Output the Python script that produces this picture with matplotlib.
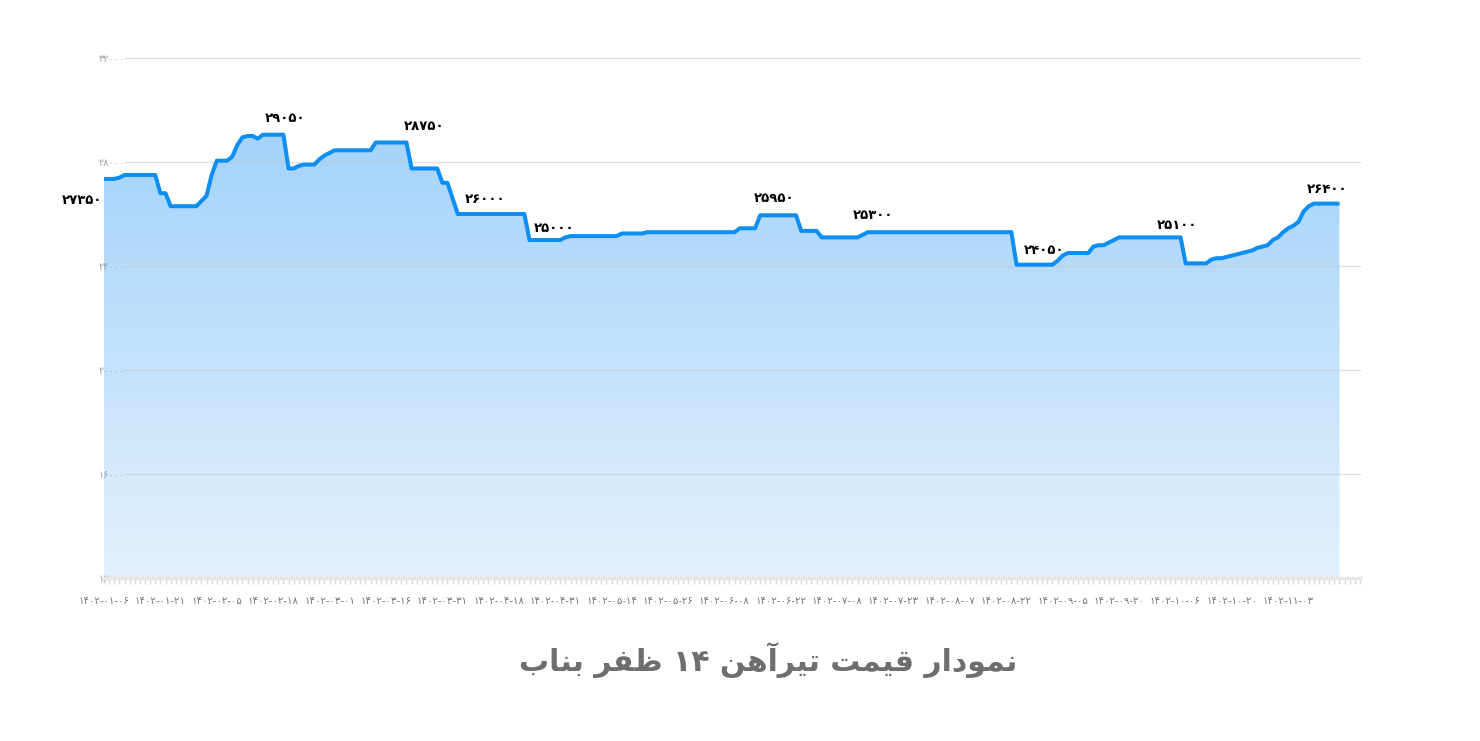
import matplotlib
matplotlib.use('Agg')
import matplotlib.pyplot as plt
import numpy as np
from matplotlib.colors import LinearSegmentedColormap

plt.rcParams['font.family'] = ['DejaVu Sans']

# daily price, one value per trading day (11 days between date labels)
prices = [
    27350, 27350, 27350, 27400, 27500, 27500, 27500, 27500, 27500, 27500, 27500,
    26800, 26800, 26300, 26300, 26300, 26300, 26300, 26300, 26500, 26700, 27500,
    28050, 28050, 28050, 28200, 28650, 28950, 29000, 29000, 28900, 29050, 29050,
    29050, 29050, 29050, 27750, 27750, 27850, 27900, 27900, 27900, 28100, 28250,
    28350, 28450, 28450, 28450, 28450, 28450, 28450, 28450, 28450, 28750, 28750,
    28750, 28750, 28750, 28750, 28750, 27750, 27750, 27750, 27750, 27750, 27750,
    27200, 27200, 26600, 26000, 26000, 26000, 26000, 26000, 26000, 26000, 26000,
    26000, 26000, 26000, 26000, 26000, 26000, 25000, 25000, 25000, 25000, 25000,
    25000, 25000, 25100, 25150, 25150, 25150, 25150, 25150, 25150, 25150, 25150,
    25150, 25150, 25250, 25250, 25250, 25250, 25250, 25300, 25300, 25300, 25300,
    25300, 25300, 25300, 25300, 25300, 25300, 25300, 25300, 25300, 25300, 25300,
    25300, 25300, 25300, 25450, 25450, 25450, 25450, 25950, 25950, 25950, 25950,
    25950, 25950, 25950, 25950, 25350, 25350, 25350, 25350, 25100, 25100, 25100,
    25100, 25100, 25100, 25100, 25100, 25200, 25300, 25300, 25300, 25300, 25300,
    25300, 25300, 25300, 25300, 25300, 25300, 25300, 25300, 25300, 25300, 25300,
    25300, 25300, 25300, 25300, 25300, 25300, 25300, 25300, 25300, 25300, 25300,
    25300, 25300, 24050, 24050, 24050, 24050, 24050, 24050, 24050, 24050, 24200,
    24400, 24500, 24500, 24500, 24500, 24500, 24750, 24800, 24800, 24900, 25000,
    25100, 25100, 25100, 25100, 25100, 25100, 25100, 25100, 25100, 25100, 25100,
    25100, 25100, 24100, 24100, 24100, 24100, 24100, 24250, 24300, 24300, 24350,
    24400, 24450, 24500, 24550, 24600, 24700, 24750, 24800, 25000, 25100, 25300,
    25450, 25550, 25700, 26100, 26300, 26400, 26400, 26400, 26400, 26400, 26400,
]

date_labels = [
    '۱۴۰۲-۰۱-۰۶', '۱۴۰۲-۰۱-۲۱', '۱۴۰۲-۰۲-۰۵', '۱۴۰۲-۰۲-۱۸', '۱۴۰۲-۰۳-۰۱',
    '۱۴۰۲-۰۳-۱۶', '۱۴۰۲-۰۳-۳۱', '۱۴۰۲-۰۴-۱۸', '۱۴۰۲-۰۴-۳۱', '۱۴۰۲-۰۵-۱۴',
    '۱۴۰۲-۰۵-۲۶', '۱۴۰۲-۰۶-۰۸', '۱۴۰۲-۰۶-۲۲', '۱۴۰۲-۰۷-۰۸', '۱۴۰۲-۰۷-۲۳',
    '۱۴۰۲-۰۸-۰۷', '۱۴۰۲-۰۸-۲۲', '۱۴۰۲-۰۹-۰۵', '۱۴۰۲-۰۹-۲۰', '۱۴۰۲-۱۰-۰۶',
    '۱۴۰۲-۱۰-۲۰', '۱۴۰۲-۱۱-۰۳',
]
label_step = 11

y_ticks = [12000, 16000, 20000, 24000, 28000, 32000]

# points that carry a value label
marked_idx = [0, 31, 58, 70, 84, 128, 149, 180, 205, 238]

title = 'نمودار قیمت تیرآهن ۱۴ ظفر بناب'

# label offsets in pixels (dx, dy) and horizontal alignment
label_offsets = [(-2, -22, 'right'), (2, 16, 'left'), (2, 16, 'left'),
                 (2, 14, 'left'), (-1, 11, 'left'), (-6, 17, 'left'),
                 (-15, 17, 'left'), (-3, 14, 'left'), (2, 12, 'left'),
                 (-17, 14, 'left')]

fa_digits = str.maketrans('0123456789', '۰۱۲۳۴۵۶۷۸۹')


def fa(n):
    return str(n).translate(fa_digits)


# minimal arabic shaping: isolated, final, initial, medial
FORMS = {
    'ا': ('\uFE8D', '\uFE8E', None, None),
    'آ': ('\uFE81', '\uFE82', None, None),
    'ب': ('\uFE8F', '\uFE90', '\uFE91', '\uFE92'),
    'ت': ('\uFE95', '\uFE96', '\uFE97', '\uFE98'),
    'د': ('\uFEA9', '\uFEAA', None, None),
    'ر': ('\uFEAD', '\uFEAE', None, None),
    'ظ': ('\uFEC5', '\uFEC6', '\uFEC7', '\uFEC8'),
    'ف': ('\uFED1', '\uFED2', '\uFED3', '\uFED4'),
    'ق': ('\uFED5', '\uFED6', '\uFED7', '\uFED8'),
    'م': ('\uFEE1', '\uFEE2', '\uFEE3', '\uFEE4'),
    'ن': ('\uFEE5', '\uFEE6', '\uFEE7', '\uFEE8'),
    'ه': ('\uFEE9', '\uFEEA', '\uFEEB', '\uFEEC'),
    'و': ('\uFEED', '\uFEEE', None, None),
    'ی': ('\uFBFC', '\uFBFD', '\uFBFE', '\uFBFF'),
}


def shape_word(w):
    out = []
    for k, ch in enumerate(w):
        if ch not in FORMS:
            out.append(ch)
            continue
        prev = w[k - 1] if k > 0 else None
        nxt = w[k + 1] if k + 1 < len(w) else None
        join_prev = prev in FORMS and FORMS[prev][2] is not None
        join_next = nxt in FORMS and FORMS[ch][2] is not None
        iso, fin, ini, med = FORMS[ch]
        if join_prev and join_next:
            out.append(med)
        elif join_prev:
            out.append(fin)
        elif join_next:
            out.append(ini)
        else:
            out.append(iso)
    return ''.join(out)


def rtl(text):
    vis = []
    for w in reversed(text.split(' ')):
        if all(c in '۰۱۲۳۴۵۶۷۸۹' for c in w):
            vis.append(w)
        else:
            vis.append(shape_word(w)[::-1])
    return ' '.join(vis)


W, H = 1480, 741
fig = plt.figure(figsize=(W / 100, H / 100), dpi=100)
ax = fig.add_axes([104 / W, 1 - 578 / H, 1256 / W, 520 / H])

x = np.arange(len(prices))
ymin, ymax = y_ticks[0], y_ticks[-1]

# gradient area under the line
poly = ax.fill_between(x, prices, ymin, facecolor='none', edgecolor='none')
cmap = LinearSegmentedColormap.from_list('area', ['#e2f0fd', '#a4d3fb'])
im = ax.imshow(np.linspace(0, 1, 256).reshape(-1, 1), cmap=cmap,
               extent=[0, x[-1], ymin, max(prices)], origin='lower',
               aspect='auto', zorder=1)
im.set_clip_path(poly.get_paths()[0], transform=ax.transData)

ax.plot(x, prices, color='#0d8ef2', lw=2.9, solid_joinstyle='round',
        solid_capstyle='butt', zorder=4)

ax.set_xlim(0, 245)
ax.set_ylim(ymin, ymax)

for yv in y_ticks[1:]:
    ax.axhline(yv, xmin=21 / 1256, color='#c4c4c4', lw=1, alpha=0.5,
               zorder=2, clip_on=False)

for spine in ['left', 'right', 'top']:
    ax.spines[spine].set_visible(False)
ax.spines['bottom'].set_color('#e6e6e6')
ax.spines['bottom'].set_linewidth(2.5)

ax.set_yticks(y_ticks)
ax.set_yticklabels([fa(v) for v in y_ticks], fontsize=7, color='#a0a0a0')
ax.tick_params(axis='y', length=0, pad=-15)

ax.set_xticks(np.arange(0, len(prices), label_step))
ax.set_xticklabels(date_labels, fontsize=7.3, color='#777777')
ax.set_xticks(np.arange(0, 246), minor=True)
ax.tick_params(axis='x', which='both', length=4, width=1, color='#d8d8d8',
               direction='out')
ax.tick_params(axis='x', which='major', pad=9)

for (i, (dx, dy, ha)) in zip(marked_idx, label_offsets):
    ax.annotate(fa(prices[i]), (x[i], prices[i]),
                xytext=(dx * 0.72, dy * 0.72), textcoords='offset points',
                ha=ha, va='center', fontsize=9.5, fontweight='bold',
                color='black', zorder=5)

fig.text(768.5 / W, 1 - 660 / H, rtl(title), ha='center', va='center',
         fontsize=21.5, fontweight='bold', color='#6e6e6e')

fig.savefig('out.png', dpi=100)
